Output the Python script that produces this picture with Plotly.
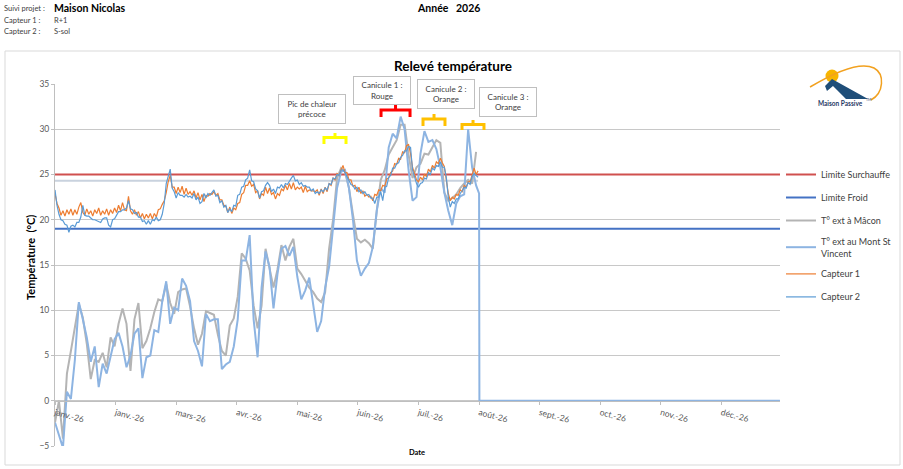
import pandas as pd
import plotly.graph_objects as go

FONT = "Lato, Carlito, Calibri, sans-serif"

# ---------------------------------------------------------------
# Données lues sur le relevé (°C)
# ---------------------------------------------------------------

DEBUT = "2026-01-01"
FIN = "2027-01-01"

# Températures extérieures : un relevé tous les 2 jours (1er janv. -> 1er août)
t_ext_macon = [
    -2.4, 0.0, -4.2, 3.0, 5.5, 8.0, 10.7, 9.2, 6.3, 2.4,
    4.5, 4.3, 5.3, 3.7, 7.0, 6.0, 8.5, 10.2, 8.5, 3.3,
    9.0, 10.8, 5.8, 6.6, 8.0, 9.8, 11.2, 11.0, 12.9, 10.8,
    9.6, 12.0, 12.3, 12.4, 10.4, 8.0, 6.2, 7.4, 9.9, 9.7,
    9.5, 7.3, 5.5, 5.0, 8.3, 9.1, 11.5, 16.3, 15.7, 14.4,
    10.5, 8.0, 10.5, 16.8, 14.5, 12.5, 14.5, 17.2, 15.5, 17.0,
    17.9, 14.6, 14.0, 13.3, 12.5, 12.0, 11.3, 10.9, 12.0, 16.8,
    20.0, 24.6, 25.7, 25.3, 23.5, 20.6, 17.9, 17.5, 17.8, 17.4,
    16.8, 21.0, 24.4, 25.5, 27.2, 28.0, 28.8, 30.5, 30.5, 27.2,
    24.6, 25.8, 26.2, 27.3, 27.2, 28.0, 28.8, 28.5, 23.0, 22.1,
    22.4, 22.8, 23.5, 24.0, 24.4, 24.0, 27.5,
]
t_ext_mont = [
    -2.4, -3.8, -5.2, 1.0, 0.2, 4.5, 10.9, 9.0, 7.0, 4.3,
    6.0, 1.5, 4.1, 3.0, 4.8, 6.8, 7.5, 6.0, 3.7, 5.0,
    7.4, 8.0, 2.5, 4.8, 5.0, 7.8, 7.6, 11.0, 13.2, 8.5,
    10.3, 10.0, 13.5, 12.7, 11.0, 6.6, 5.5, 3.8, 9.6, 8.8,
    9.0, 9.0, 3.5, 4.0, 4.3, 6.0, 9.0, 15.5, 15.5, 18.3,
    9.0, 4.8, 12.5, 16.5, 14.8, 10.2, 14.0, 16.8, 17.1, 16.0,
    17.0, 13.7, 11.2, 12.2, 13.6, 10.6, 7.6, 8.8, 12.5, 14.8,
    19.5, 23.5, 25.3, 25.5, 23.5, 20.0, 15.5, 13.8, 14.6, 15.2,
    17.0, 21.0, 23.5, 23.0, 28.0, 29.5, 29.0, 31.4, 30.0, 25.5,
    22.1, 22.5, 27.3, 29.8, 28.6, 28.8, 27.8, 25.8, 23.0, 21.0,
    19.4, 21.8, 22.6, 22.8, 30.0, 25.8, 23.8,
]
# la station du Mont St Vincent ne remonte plus rien après le 2 août
mont_coupure_dates = ["2026-08-02 12:00", "2026-08-02 16:00", "2026-12-31 23:00"]
mont_coupure_valeurs = [22.9, 0.0, 0.0]

# Capteurs intérieurs : une valeur par jour
capteur_1 = [  # R+1
    22.9, 21.8, 21.3, 20.5, 21.0, 20.4, 21.1, 20.6, 21.2, 20.5,
    21.1, 20.6, 21.4, 21.9, 20.8, 20.5, 21.2, 20.6, 21.0, 20.4,
    21.1, 20.7, 21.3, 20.5, 21.0, 20.6, 21.2, 20.5, 21.1, 20.7,
    21.3, 20.8, 21.6, 21.0, 21.9, 21.1, 21.0, 22.6, 21.0, 20.6,
    21.1, 20.5, 20.9, 20.2, 20.7, 20.1, 20.6, 20.2, 20.7, 20.1,
    20.7, 20.3, 21.1, 21.2, 21.7, 22.1, 23.0, 24.2, 24.9, 23.6,
    23.6, 22.9, 23.6, 23.0, 23.7, 22.8, 23.5, 22.8, 23.1, 22.7,
    23.2, 22.4, 23.0, 22.2, 22.8, 22.0, 22.7, 22.6, 22.9, 22.8,
    23.1, 22.7, 22.9, 22.2, 22.2, 21.6, 21.5, 20.8, 21.4, 20.7,
    21.3, 21.1, 21.8, 21.9, 22.8, 23.0, 23.8, 23.8, 24.3, 23.7,
    23.9, 23.0, 23.2, 22.3, 22.9, 22.7, 23.6, 22.9, 23.5, 22.8,
    23.0, 22.3, 22.9, 22.7, 23.4, 23.2, 23.8, 23.3, 24.0, 23.4,
    24.1, 23.3, 23.6, 23.4, 23.6, 23.0, 23.7, 23.1, 23.3, 23.2,
    23.2, 23.1, 23.3, 22.7, 23.4, 22.9, 23.6, 23.1, 24.0, 23.8,
    24.6, 24.4, 25.1, 24.9, 25.5, 26.0, 25.2, 25.2, 24.4, 24.4,
    23.7, 23.8, 23.1, 23.6, 22.9, 23.2, 22.6, 22.8, 22.5, 22.6,
    22.1, 22.8, 22.7, 23.3, 23.2, 23.8, 23.7, 24.5, 24.6, 25.2,
    25.4, 26.2, 26.1, 26.8, 26.7, 27.5, 27.4, 28.2, 28.3, 27.3,
    25.8, 25.0, 24.4, 24.2, 24.7, 24.4, 25.0, 24.8, 25.6, 25.3,
    26.0, 25.7, 26.4, 26.2, 26.8, 26.3, 25.9, 24.4, 22.9, 22.1,
    22.5, 22.3, 22.8, 22.7, 23.3, 23.1, 23.8, 23.6, 24.2, 24.2,
    24.9, 25.7, 25.0, 25.4,
]
capteur_2 = [  # S-sol
    23.3, 21.6, 20.6, 20.0, 19.9, 19.5, 19.4, 18.6, 19.3, 19.4,
    19.2, 19.7, 19.7, 20.3, 21.6, 20.5, 20.4, 20.4, 20.2, 20.0,
    20.0, 19.9, 19.8, 19.7, 20.1, 20.2, 20.2, 19.4, 19.2, 20.0,
    20.1, 20.5, 20.9, 20.9, 21.1, 21.1, 21.3, 22.1, 21.2, 21.1,
    20.7, 20.8, 20.3, 20.3, 19.8, 19.9, 19.5, 19.9, 19.5, 20.0,
    19.9, 20.3, 19.9, 20.0, 20.6, 21.8, 24.0, 24.8, 25.6, 23.5,
    23.1, 22.4, 23.0, 22.7, 22.7, 22.5, 22.8, 22.5, 22.6, 22.4,
    22.9, 22.2, 22.5, 21.8, 22.0, 22.9, 22.4, 22.9, 22.7, 23.0,
    23.3, 22.6, 22.7, 21.9, 22.1, 21.4, 21.6, 20.8, 21.2, 20.9,
    21.6, 21.5, 22.7, 22.8, 23.6, 23.7, 24.4, 24.6, 25.5, 24.3,
    24.2, 23.4, 23.2, 22.4, 23.1, 23.2, 23.8, 24.1, 23.8, 23.1,
    23.4, 22.9, 23.6, 23.5, 23.9, 23.5, 24.0, 23.9, 24.3, 24.6,
    24.9, 24.3, 24.4, 23.9, 24.1, 23.7, 23.8, 23.6, 23.6, 23.2,
    23.4, 22.9, 23.1, 22.9, 23.3, 23.1, 23.5, 23.3, 24.0, 23.9,
    24.6, 24.5, 25.0, 24.9, 25.5, 25.5, 25.2, 24.8, 24.4, 23.9,
    23.8, 23.4, 23.6, 23.1, 23.3, 22.9, 23.1, 22.7, 22.8, 22.4,
    22.4, 21.8, 22.5, 22.5, 23.1, 22.1, 23.6, 23.7, 24.7, 24.9,
    25.7, 25.7, 26.2, 26.3, 26.9, 27.1, 27.6, 27.6, 28.1, 28.0,
    25.5, 24.6, 24.0, 23.6, 24.0, 24.1, 24.6, 24.5, 25.2, 25.0,
    25.7, 25.5, 26.0, 25.9, 26.4, 25.8, 25.8, 24.7, 22.5, 21.4,
    22.0, 21.8, 22.3, 22.3, 22.9, 23.2, 23.6, 23.5, 24.1, 23.9,
    24.8, 25.1, 24.9, 24.7,
]

limite_surchauffe = 25
limite_froid = 19
repere_gris = 24.3

mois = ["janv.-26", "janv.-26", "mars-26", "avr.-26", "mai-26", "juin-26",
        "juil.-26", "août-26", "sept.-26", "oct.-26", "nov.-26", "déc.-26"]

# ---------------------------------------------------------------
# Mise en page : la zone de tracé occupe x 55..780, y 84..446 (px)
# ---------------------------------------------------------------

W, H = 903, 469
L, R, T, B = 55, 780, 84, 446


def px(x):
    return (x - L) / (R - L)


def py(y):
    return (B - y) / (B - T)


def chemin(points, ferme=False):
    # points en pixels -> chemin en coordonnées "paper"
    cmd = []
    for p in points:
        if isinstance(p, str):
            cmd.append(p)
        else:
            cmd.append(f"{px(p[0]):.4f},{py(p[1]):.4f}")
    s = " ".join(cmd)
    return s + (" Z" if ferme else "")


def accolade(x0, x1, y_haut, y_barre, y_bas, couleur):
    xm = (x0 + x1) / 2
    path = chemin(["M", (x0, y_bas), "L", (x0, y_barre), "L", (x1, y_barre), "L", (x1, y_bas),
                   "M", (xm, y_barre), "L", (xm, y_haut)])
    return dict(type="path", xref="paper", yref="paper", path=path,
                line=dict(color=couleur, width=3))


dates_ext = pd.date_range(DEBUT, periods=len(t_ext_macon), freq="2D")
dates_cap = pd.date_range(DEBUT, periods=len(capteur_1), freq="D")
dates_mont = list(dates_ext[:len(t_ext_mont)]) + list(pd.to_datetime(mont_coupure_dates, format="%Y-%m-%d %H:%M"))

fig = go.Figure()
fig.add_trace(go.Scatter(x=[DEBUT, FIN], y=[limite_surchauffe] * 2, mode="lines", legendgroup="a",
                         name="Limite Surchauffe", line=dict(color="#D0504F", width=2)))
fig.add_trace(go.Scatter(x=[DEBUT, FIN], y=[limite_froid] * 2, mode="lines", legendgroup="b",
                         name="Limite Froid", line=dict(color="#4472C4", width=2)))
fig.add_trace(go.Scatter(x=dates_ext, y=t_ext_macon, mode="lines", legendgroup="c",
                         name="T° ext à Mâcon", line=dict(color="#B4B4B4", width=2)))
fig.add_trace(go.Scatter(x=dates_mont, y=t_ext_mont + mont_coupure_valeurs, mode="lines", legendgroup="d",
                         name="T° ext au Mont St<br>Vincent", line=dict(color="#8DB4E2", width=2)))
fig.add_trace(go.Scatter(x=dates_cap, y=capteur_1, mode="lines", legendgroup="e",
                         name="Capteur 1", line=dict(color="#ED7D31", width=1.2)))
fig.add_trace(go.Scatter(x=dates_cap, y=capteur_2, mode="lines", legendgroup="f",
                         name="Capteur 2", line=dict(color="#5B9BD5", width=1.2)))

pas = pd.Timedelta(days=30.5)
tickvals = [pd.Timestamp(DEBUT) + i * pas for i in range(len(mois))]

shapes = [
    # cadre du graphique
    dict(type="rect", xref="paper", yref="paper", x0=px(5), x1=px(900), y0=py(465), y1=py(51),
         line=dict(color="#D9D9D9", width=1), layer="below"),
    # repère gris clair
    dict(type="line", xref="x", yref="y", x0=DEBUT, x1="2026-08-02", y0=repere_gris, y1=repere_gris,
         line=dict(color="#C9D2DE", width=2), layer="below"),
    accolade(324, 346, 133, 137.5, 144, "#FFFF00"),
    accolade(381, 410, 105, 110, 117, "#FF0000"),
    accolade(423, 445, 114, 119, 126, "#FFC000"),
    accolade(462, 484, 120, 124.5, 130, "#FFC000"),
    # logo Maison Passive
    dict(type="circle", xref="paper", yref="paper", x0=px(825.5), x1=px(838.5), y0=py(82.5), y1=py(69.5),
         fillcolor="#F7B500", line=dict(width=0)),
    dict(type="path", xref="paper", yref="paper",
         path=chemin(["M", (810, 87), "C", (835, 72), (860, 61), (874, 68), "C", (885, 74), (884, 93), (871, 100)]),
         line=dict(color="#F2A11F", width=1.5)),
    dict(type="path", xref="paper", yref="paper",
         path=chemin(["M", (825, 86), "L", (832, 79), "L", (868, 99), "L", (846, 99), "L", (833, 86), "L", (827, 91)],
                     ferme=True),
         fillcolor="#1F4E79", line=dict(width=0)),
]

txt = dict(color="#404040", family=FONT)
annotations = [
    dict(x=px(453), y=py(66), text="<b>Relevé température</b>", font=dict(size=13.5, color="#000000", family=FONT)),
    dict(x=px(30), y=py(258), text="<b>Température  (°C)</b>", textangle=-90,
         font=dict(size=11, color="#000000", family=FONT)),
    dict(x=px(417), y=py(452), text="<b>Date</b>", font=dict(size=7.5, color="#000000", family=FONT)),
    dict(x=px(840), y=py(104), text="<b>Maison Passive</b>", font=dict(size=6.5, color="#1F3864", family=FONT)),
    dict(x=px(868), y=py(100), text="TM", font=dict(size=3.5, color="#1F3864", family=FONT)),
    # en-tête
    dict(x=px(2), y=py(8), xanchor="left", text="Suivi projet :", font=dict(size=7.5, **txt)),
    dict(x=px(52), y=py(8), xanchor="left", text="<b>Maison Nicolas</b>",
         font=dict(size=10.5, color="#000000", family=FONT)),
    dict(x=px(2), y=py(20.5), xanchor="left", text="Capteur 1 :", font=dict(size=7.5, **txt)),
    dict(x=px(52), y=py(20.5), xanchor="left", text="R+1", font=dict(size=7.5, **txt)),
    dict(x=px(2), y=py(32), xanchor="left", text="Capteur 2 :", font=dict(size=7.5, **txt)),
    dict(x=px(52), y=py(32), xanchor="left", text="S-sol", font=dict(size=7.5, **txt)),
    dict(x=px(415), y=py(8), xanchor="left", text="<b>Année   2026</b>",
         font=dict(size=10.5, color="#000000", family=FONT)),
]
# étiquettes des épisodes de chaleur (centre x, centre y, largeur, hauteur en px)
for texte, cx, cy, lw, lh in [
    ("Pic de chaleur<br>précoce", 311.5, 108.5, 68, 30),
    ("Canicule 1 :<br>Rouge", 381.5, 90.5, 58, 29),
    ("Canicule 2 :<br>Orange", 446, 94, 58, 30),
    ("Canicule 3 :<br>Orange", 508, 101.5, 58, 30),
]:
    annotations.append(dict(x=px(cx), y=py(cy), text=texte, width=lw - 2, height=lh - 2,
                            bordercolor="#BFBFBF", borderwidth=1, borderpad=0, bgcolor="#FFFFFF",
                            font=dict(size=8, **txt)))
for a in annotations:
    a.setdefault("xref", "paper")
    a.setdefault("yref", "paper")
    a.setdefault("xanchor", "center")
    a.setdefault("yanchor", "middle")
    a.setdefault("showarrow", False)

fig.update_layout(
    width=W, height=H,
    margin=dict(l=L, r=W - R, t=T, b=H - B, autoexpand=False),
    paper_bgcolor="#FFFFFF", plot_bgcolor="#FFFFFF",
    font=dict(family=FONT, size=9, color="#595959"),
    showlegend=True,
    legend=dict(x=px(781), y=py(160), xanchor="left", yanchor="top", itemwidth=30,
                traceorder="grouped", tracegroupgap=4,
                font=dict(size=9, color="#404040", family=FONT), bgcolor="rgba(0,0,0,0)"),
    shapes=shapes,
    annotations=annotations,
    xaxis=dict(type="date", range=[DEBUT, FIN], anchor="free", position=5 / 40,
               tickvals=tickvals, ticktext=mois, tickangle=15,
               tickfont=dict(size=8.5, color="#595959"),
               showgrid=False, zeroline=False, showline=True, linecolor="#BFBFBF", linewidth=1,
               ticks="outside", ticklen=3, tickcolor="#BFBFBF"),
    yaxis=dict(range=[-5, 35], dtick=5, tick0=0, showgrid=True, gridcolor="#C8C8C8", gridwidth=1,
               zeroline=False, showline=True, linecolor="#BFBFBF", linewidth=1,
               ticks="outside", ticklen=3, tickcolor="#BFBFBF",
               tickfont=dict(size=8.5, color="#595959")),
)

# la page ne doit pas ajouter de marge autour de la figure
fig.write_html("out.html", config={"displayModeBar": False},
               post_script="document.body.style.margin = '0';")
